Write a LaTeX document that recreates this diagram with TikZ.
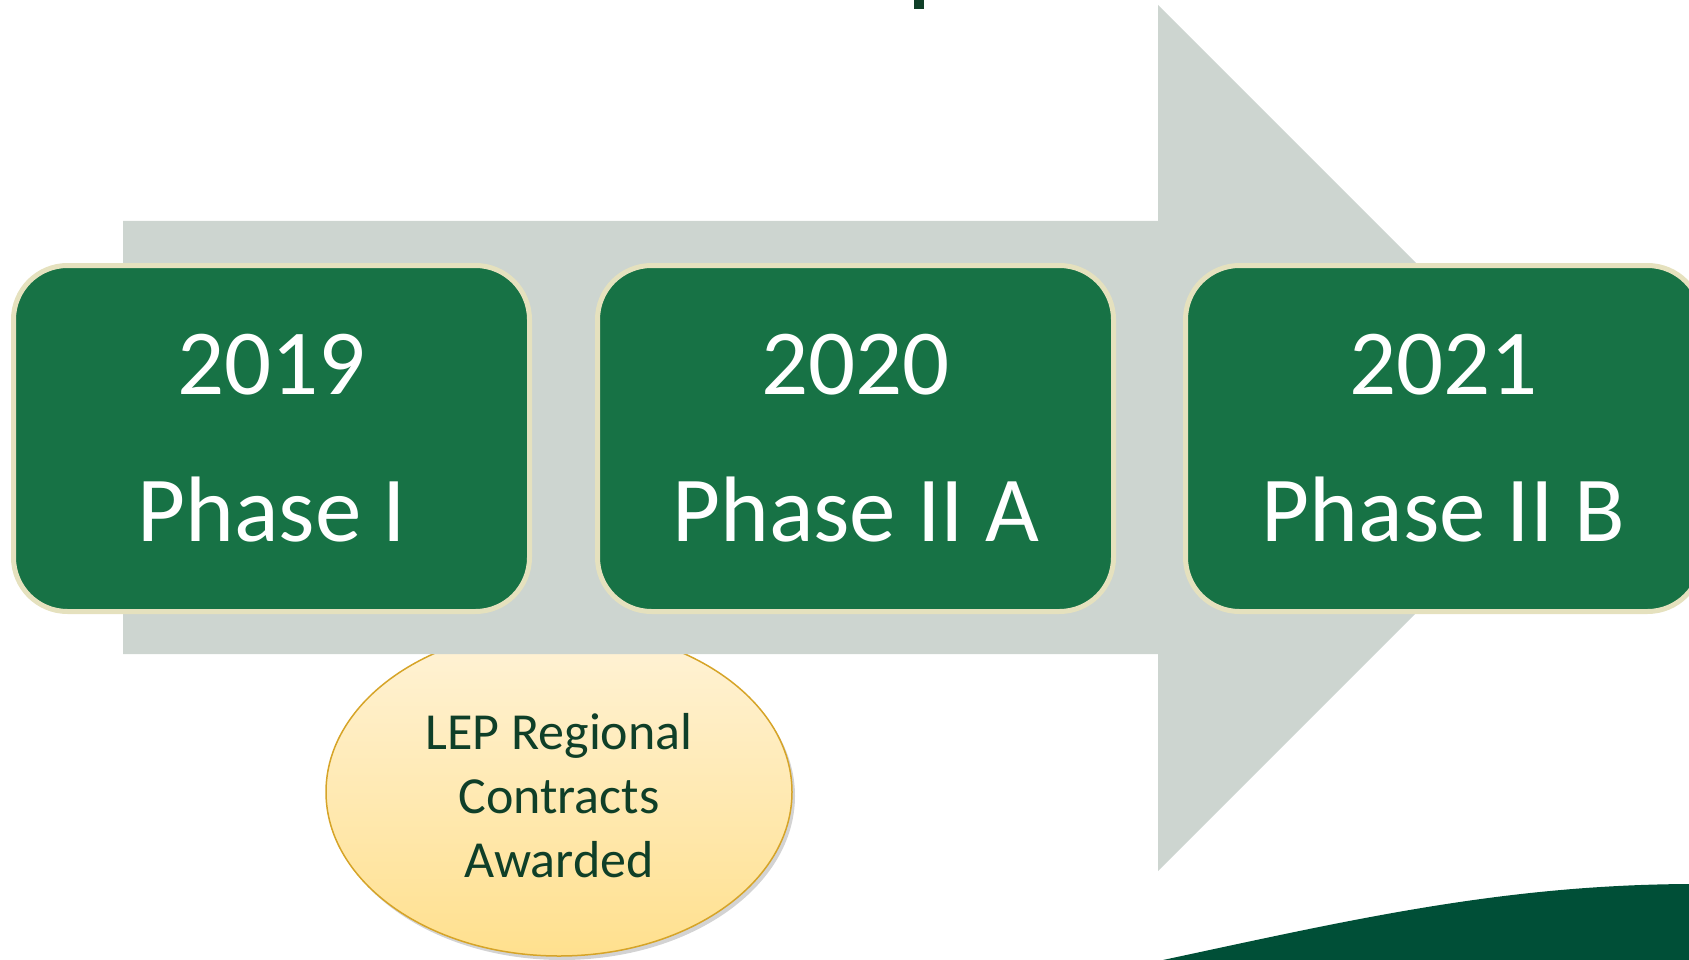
\documentclass[tikz,border=0pt]{standalone}
\usepackage{fontspec}
\setmainfont{Carlito}
\usetikzlibrary{shapes.geometric,shadows}

\definecolor{arrowgray}{HTML}{CDD5D0}
\definecolor{boxgreen}{HTML}{177245}
\definecolor{boxrim}{HTML}{E5E1BE}
\definecolor{darkgreen}{HTML}{004F37}
\definecolor{textgreen}{HTML}{0F3F28}
\definecolor{lightgold}{HTML}{FFF3D8}
\definecolor{gold}{HTML}{FFE08E}
\definecolor{goldrim}{HTML}{D6A428}

\begin{document}
\begin{tikzpicture}[x=1pt, y=-1pt,
	phasebox/.style={draw=boxrim, line width=5pt, fill=boxgreen, rounded corners=54pt, minimum width=516pt, minimum height=346pt, inner sep=0pt, text=white, align=center, font=\fontsize{93}{147}\selectfont},
	milestone/.style={ellipse, draw=goldrim, line width=1.5pt, top color=lightgold, bottom color=gold, minimum width=466pt, minimum height=328pt, inner sep=0pt, drop shadow={shadow xshift=3pt, shadow yshift=-4pt, opacity=.35}},
	milestonetext/.style={text=textgreen, align=center, font=\fontsize{52}{64}\selectfont}]
	% frame
	\useasboundingbox (0,0) rectangle (1689,960);
	\clip (0,0) rectangle (1689,960);
	
	% title remnant
	\fill[textgreen] (914,0) rectangle (924,9);
	
	% milestone
	\node[milestone] (lep) at (559,792) {};
	\node[milestonetext] (leptext) at (559,796) {LEP Regional\\Contracts\\Awarded};
	
	% arrow
	\fill[arrowgray] (123,221) -- (1158,221) -- (1158,5) -- (1591,438) -- (1158,871) -- (1158,654) -- (123,654) -- cycle;
	
	% phases
	\node[phasebox] (phaseI) at (271.5,438.5) {2019\\Phase I};
	\node[phasebox] (phaseIIA) at (855.5,438.5) {2020\\Phase II A};
	\node[phasebox] (phaseIIB) at (1443.5,438.5) {2021\\Phase II B};
	
	% swoosh
	\fill[darkgreen] (1163,960) .. controls (1350,920) and (1500,885) .. (1689,884) -- (1689,960) -- cycle;
\end{tikzpicture}
\end{document}
